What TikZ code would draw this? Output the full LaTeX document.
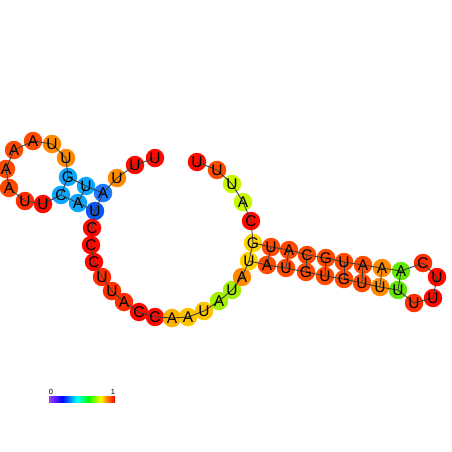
\documentclass[tikz,border=0pt]{standalone}
\usepackage{fontspec}
\setmainfont{Liberation Sans}
\usepackage{xcolor}
\definecolor{clRed}{HTML}{FF0A00}
\definecolor{clRedOrange}{HTML}{FF2E00}
\definecolor{clOrangeRed}{HTML}{FF4A00}
\definecolor{clOrange}{HTML}{FF8A00}
\definecolor{clAmber}{HTML}{FFB000}
\definecolor{clGold}{HTML}{FFC400}
\definecolor{clYellow}{HTML}{FFD400}
\definecolor{clLime}{HTML}{C8F800}
\definecolor{clYellowGreen}{HTML}{A4EE00}
\definecolor{clGreen}{HTML}{62E800}
\definecolor{clSky}{HTML}{0AA6FF}
\definecolor{clBlue}{HTML}{1C78FF}
\definecolor{clDeepBlue}{HTML}{0A58F2}
\definecolor{clPurple}{HTML}{A040FF}
\definecolor{clLine}{HTML}{404040}
\usetikzlibrary{calc}
\pgfdeclarehorizontalshading{rainbowbar}{100bp}{color(0bp)=(clPurple); color(25bp)=(clPurple);
  color(35bp)=(blue); color(46bp)=(cyan); color(55bp)=(green); color(64bp)=(yellow);
  color(69bp)=(orange); color(75bp)=(red); color(100bp)=(red)}
\tikzset{
  base/.style={circle, inner sep=0pt, minimum size=18.5pt, draw=none},
  letter/.style={inner sep=0pt, font=\fontsize{15.5}{15.5}\selectfont, text=black},
  backbone/.style={draw=clLine, line width=0.9pt},
  pairbond/.style={backbone},
  barlabel/.style={inner sep=0pt, font=\fontsize{7.5}{7.5}\selectfont, anchor=base},
}
\def\seqlist{1/155/158/U/clRed, 2/135/165/U/clRed, 3/117/178/U/clOrange,
  4/103/193/A/clBlue, 5/86/186/U/clSky, 6/68/177/G/clSky, 7/66/158/U/clOrange,
  8/52/144/U/clOrange, 9/33/141/A/clOrangeRed, 10/14/150/A/clOrangeRed,
  11/6/169/A/clOrangeRed, 12/9/188/A/clOrangeRed, 13/25/201/U/clRedOrange,
  14/43/204/U/clRed, 15/61/195/C/clSky, 16/78/203/A/clSky, 17/95/211/U/clDeepBlue,
  18/92/228/C/clRed, 19/91/245/C/clRed, 20/94/262/C/clRed, 21/102/277/U/clRedOrange,
  22/112/291/U/clRedOrange, 23/124/302/A/clRedOrange, 24/139/312/C/clRed,
  25/155/317/C/clRed, 26/172/318/A/clAmber, 27/188/317/A/clGold, 28/204/311/U/clGold,
  29/219/301/A/clYellowGreen, 30/232/290/U/clYellowGreen, 31/242/277/A/clOrange,
  32/249/261/U/clYellow, 33/267/265/A/clOrangeRed, 34/286/268/U/clOrangeRed,
  35/306/272/G/clOrangeRed, 36/325/276/U/clOrangeRed, 37/344/279/G/clOrangeRed,
  38/362/283/U/clOrangeRed, 39/380/287/U/clOrange, 40/398/290/U/clGreen,
  41/414/303/U/clRedOrange, 42/433/298/U/clRed, 43/437/277/U/clRed,
  44/423/263/C/clRedOrange, 45/401/271/A/clGreen, 46/382/268/A/clOrange,
  47/363/265/A/clOrangeRed, 48/344/262/U/clOrangeRed, 49/326/258/G/clOrangeRed,
  50/307/255/C/clOrangeRed, 51/289/250/A/clOrangeRed, 52/271/247/U/clOrangeRed,
  53/253/243/G/clYellow, 54/251/221/C/clRed, 55/243/202/A/clLime,
  56/232/184/U/clLime, 57/217/170/U/clOrangeRed, 58/197/162/U/clRed}

\begin{document}
\begin{tikzpicture}[x=1pt,y=-1pt]
  \useasboundingbox (0,0) rectangle (452,452);
  % bases
  \foreach \i/\x/\y/\l/\c in \seqlist
    \node[base, fill=\c] (nt\i) at (\x,\y) {};
  % backbone
  \foreach \i [evaluate=\i as \j using int(\i+1)] in {1,...,57}
    \draw[backbone] (nt\i.center) -- (nt\j.center);
  % base pairs
  \foreach \a/\b in {4/17, 5/16, 6/15, 32/53, 33/52, 34/51, 35/50, 36/49,
                     37/48, 38/47, 39/46, 40/45}
    \draw[pairbond] (nt\a.center) -- (nt\b.center);
  % letters
  \foreach \i/\x/\y/\l/\c in \seqlist
    \node[letter] (lt\i) at (nt\i) {\l};
  % colour bar
  \coordinate (barLeft) at (49,396.5);
  \coordinate (barRight) at (115,402);
  \shade[shading=rainbowbar] (barLeft) rectangle (barRight);
  \node[barlabel] (barZero) at ($(barLeft)+(2,-2)$) {0};
  \node[barlabel] (barOne) at ($(barRight|-barLeft)+(-2,-2)$) {1};
\end{tikzpicture}
\end{document}
